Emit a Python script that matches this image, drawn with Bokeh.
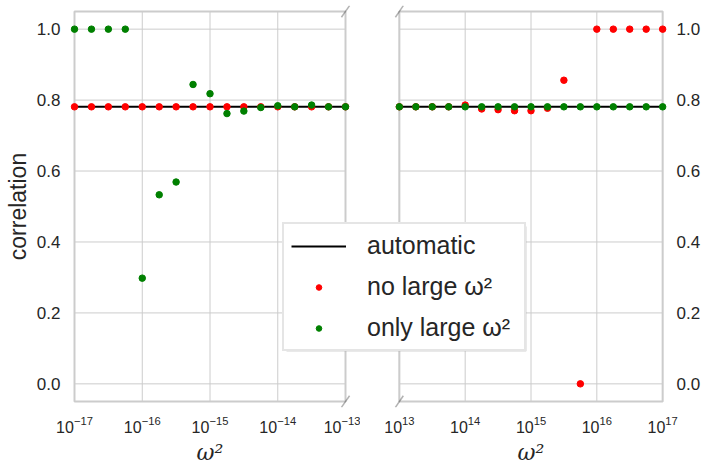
import numpy as np
from bokeh.plotting import figure
from bokeh.layouts import row
from bokeh.core.properties import value
from bokeh.models import (Range1d, FixedTicker, NumeralTickFormatter, Legend, LegendItem,
                          PolyAnnotation, ColumnDataSource, BoxAnnotation)
from bokeh.embed import file_html
from bokeh.resources import INLINE

# ---------------- data ----------------
x_small = [1.00e-17, 1.78e-17, 3.16e-17, 5.62e-17, 1.00e-16, 1.78e-16, 3.16e-16, 5.62e-16,
           1.00e-15, 1.78e-15, 3.16e-15, 5.62e-15, 1.00e-14, 1.78e-14, 3.16e-14, 5.62e-14, 1.00e-13]
x_large = [1.00e13, 1.78e13, 3.16e13, 5.62e13, 1.00e14, 1.78e14, 3.16e14, 5.62e14,
           1.00e15, 1.78e15, 3.16e15, 5.62e15, 1.00e16, 1.78e16, 3.16e16, 5.62e16, 1.00e17]

no_large_small = [0.781, 0.781, 0.781, 0.781, 0.781, 0.781, 0.781, 0.781, 0.781,
                  0.781, 0.781, 0.781, 0.781, 0.781, 0.781, 0.781, 0.781]
only_large_small = [1.0, 1.0, 1.0, 1.0, 0.298, 0.533, 0.569, 0.844, 0.818,
                    0.762, 0.769, 0.779, 0.784, 0.781, 0.786, 0.781, 0.781]
no_large_large = [0.781, 0.781, 0.781, 0.781, 0.786, 0.775, 0.773, 0.770, 0.770,
                  0.777, 0.856, 0.0, 1.0, 1.0, 1.0, 1.0, 1.0]
only_large_large = [0.781, 0.781, 0.781, 0.781, 0.781, 0.781, 0.781, 0.781, 0.781,
                    0.781, 0.781, 0.781, 0.781, 0.781, 0.781, 0.781, 0.781]
automatic = 0.781

y_ticks = [0.0, 0.2, 0.4, 0.6, 0.8, 1.0]
small_ticks = [1e-17, 1e-16, 1e-15, 1e-14, 1e-13]
large_ticks = [1e13, 1e14, 1e15, 1e16, 1e17]
legend_labels = ["automatic", "no large ω²", "only large ω²"]
x_label = "ω²"
y_label = "correlation"

# ---------------- style / layout ----------------
RED = "#ff0000"
GREEN = "#008000"
TXT = "#262626"
GRID = "#cccccc"
FONT = "Liberation Sans"
Y0, Y1 = -0.05, 1.05

W, H = 703, 467
SPLIT = 360                                        # page x where the two figures meet
PANEL = {"left": (74, 345), "right": (399, 669)}   # page x of each panel
PT, PB = 11, 407                                   # page y of panel top / bottom
E = 6                                              # frame extends E px around panel
LEG_L, LEG_T, LEG_W, LEG_H = 282, 222, 240, 125    # legend box on the page
SHADOW = 4


def make_panel(xs, red, green, xticks, side):
    left = side == "left"
    pl, pr = PANEL[side]
    x0 = 0 if left else SPLIT
    width = SPLIT if left else W - SPLIT
    fl, fr, ft, fb = pl - E, pr + E, PT - E, PB + E
    dpp = (np.log10(xticks[-1]) - np.log10(xticks[0])) / (pr - pl)
    upp = (Y1 - Y0) / (PB - PT)
    x_rng = Range1d(10 ** (np.log10(xticks[0]) - E * dpp), 10 ** (np.log10(xticks[-1]) + E * dpp))
    y_rng = Range1d(Y0 - E * upp, Y1 + E * upp)

    p = figure(width=width, height=H, x_axis_type="log", x_range=x_rng, y_range=y_rng,
               title=None, output_backend="svg", toolbar_location=None,
               y_axis_location="left" if left else "right",
               min_border_left=fl - x0, min_border_right=x0 + width - fr,
               min_border_top=ft, min_border_bottom=H - fb,
               background_fill_color="white", border_fill_color="white")
    p.frame_align = False
    p.outline_line_color = None
    p.grid.visible = False

    # grid lines and panel frame, confined to the panel
    p.segment(x0=xticks, y0=[Y0] * len(xticks), x1=xticks, y1=[Y1] * len(xticks),
              line_color=GRID, line_width=1, level="underlay")
    p.segment(x0=[xticks[0]] * len(y_ticks), y0=y_ticks, x1=[xticks[-1]] * len(y_ticks), y1=y_ticks,
              line_color=GRID, line_width=1, level="underlay")
    p.quad(left=[xticks[0]], right=[xticks[-1]], bottom=[Y0], top=[Y1],
           fill_color=None, line_color=GRID, line_width=2, level="underlay")

    p.line([xs[0], xs[-1]], [automatic, automatic], line_color="black", line_width=2)
    p.scatter(xs, red, size=6.5, fill_color=RED, line_color=RED)
    p.scatter(xs, green, size=6.5, fill_color=GREEN, line_color=GREEN)

    for ax in p.axis:
        ax.axis_line_color = None
        ax.major_tick_line_color = None
        ax.minor_tick_line_color = None
        ax.major_label_text_font = FONT
        ax.major_label_text_color = TXT
        ax.axis_label_text_color = TXT
        ax.axis_label_text_font_style = "normal"

    p.xaxis.ticker = FixedTicker(ticks=xticks)
    p.xaxis.major_label_text_font_size = "16px"
    p.xaxis.major_label_standoff = 8 - E
    p.xaxis.axis_label = x_label
    p.xaxis.axis_label_text_font = "DejaVu Serif"
    p.xaxis.axis_label_text_font_style = "italic"
    p.xaxis.axis_label_text_font_size = "22px"
    p.xaxis.axis_label_standoff = 4

    p.yaxis.ticker = FixedTicker(ticks=y_ticks)
    p.yaxis.formatter = NumeralTickFormatter(format="0.0")
    p.yaxis.major_label_text_font_size = "17px"
    p.yaxis.major_label_standoff = 8 - E
    if left:
        p.yaxis.axis_label = y_label
        p.yaxis.axis_label_text_font = FONT
        p.yaxis.axis_label_text_font_size = "23px"
        p.yaxis.axis_label_standoff = 3

    # broken-axis diagonal marks
    d = 0.015
    fx = 10 ** (d * (np.log10(xticks[-1]) - np.log10(xticks[0])))
    dy = d * (Y1 - Y0)
    edge = xticks[-1] if left else xticks[0]
    for yc in (Y0, Y1):
        p.add_layout(PolyAnnotation(xs=[edge / fx, edge * fx], ys=[yc - dy, yc + dy],
                                    fill_color=None, fill_alpha=0,
                                    line_color="black", line_width=1.5))
    return p


p_left = make_panel(x_small, no_large_small, only_large_small, small_ticks, "left")
p_right = make_panel(x_large, no_large_large, only_large_large, large_ticks, "right")

# ---------------- legend: a transparent figure laid over both panels ----------------
fw, fh = LEG_W + SHADOW, LEG_H + SHADOW
lg = figure(width=W, height=H, x_range=Range1d(0, fw), y_range=Range1d(0, fh),
            title=None, output_backend="svg", toolbar_location=None,
            x_axis_location=None, y_axis_location=None,
            min_border_left=LEG_L, min_border_right=W - LEG_L - fw,
            min_border_top=LEG_T, min_border_bottom=H - LEG_T - fh,
            background_fill_color=None, border_fill_color=None)
lg.frame_align = False
lg.outline_line_color = None
lg.grid.visible = False

# drop shadow of the legend box
lg.add_layout(BoxAnnotation(left=SHADOW, right=fw, bottom=0, top=fh - SHADOW,
                            fill_color="#a8a8a8", fill_alpha=1.0, line_color=None,
                            level="underlay"))

# legend-only renderers (no visible points in the plot area)
hidden = ColumnDataSource(data=dict(x=[np.nan], y=[np.nan]))
r_line = lg.line("x", "y", source=hidden, line_color="black", line_width=2)
r_red = lg.scatter("x", "y", source=hidden, size=6, fill_color=RED, line_color=RED)
r_green = lg.scatter("x", "y", source=hidden, size=6, fill_color=GREEN, line_color=GREEN)
rends = (r_line, r_red, r_green)

legend = Legend(items=[LegendItem(label=value(lab), renderers=[r])
                       for lab, r in zip(legend_labels, rends)],
                location="top_left", margin=0, padding=7, spacing=12,
                glyph_width=55, glyph_height=14, label_standoff=21,
                label_width=150, label_height=29,
                border_line_color=GRID, border_line_width=2,
                background_fill_color="white", background_fill_alpha=1.0,
                label_text_font=FONT, label_text_font_size="25px", label_text_color=TXT)
lg.add_layout(legend, "center")
lg.margin = (0, 0, 0, -W)

layout = row(p_left, p_right, lg)

open("out.html", "w").write(file_html(layout, INLINE))
